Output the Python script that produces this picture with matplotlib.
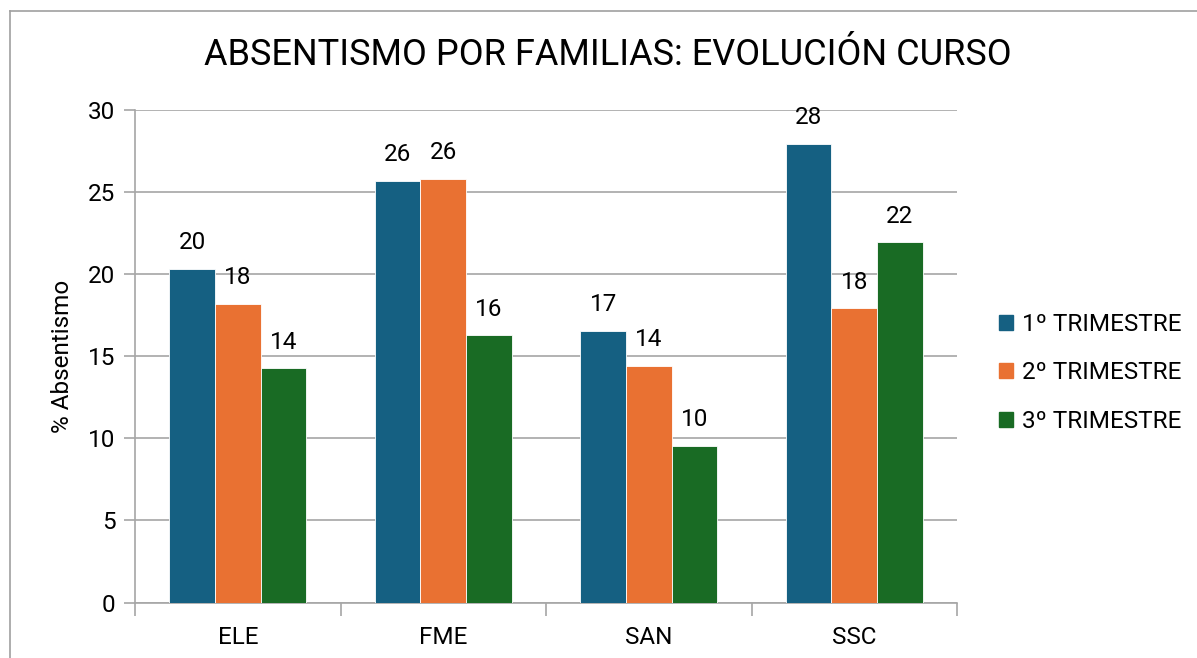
import matplotlib
matplotlib.use("Agg")
import matplotlib.pyplot as plt
from matplotlib.lines import Line2D
import numpy as np

categories = ["ELE", "FME", "SAN", "SSC"]
series_names = ["1º TRIMESTRE", "2º TRIMESTRE", "3º TRIMESTRE"]
t1 = [20.3, 25.67, 16.53, 27.92]
t2 = [18.18, 25.8, 14.42, 17.92]
t3 = [14.26, 16.27, 9.53, 21.94]
colors = ["#156082", "#E97132", "#196B24"]
title = "ABSENTISMO POR FAMILIAS: EVOLUCIÓN CURSO"
ylabel = "% Absentismo"
yticks = [0, 5, 10, 15, 20, 25, 30]

plt.rcParams['font.family'] = ['Roboto', 'DejaVu Sans']

W, H = 1197, 658
fig = plt.figure(figsize=(W / 100, H / 100), dpi=100)
ax = fig.add_axes([135 / W, (H - 602.5) / H, 822 / W, 492.5 / H])

# outer border (left & top)
fig.add_artist(Line2D([10 / W, 10 / W], [0, 1 - 11 / H], transform=fig.transFigure, color="#A0A0A0", lw=1.2))
fig.add_artist(Line2D([10 / W, 1], [1 - 11 / H, 1 - 11 / H], transform=fig.transFigure, color="#A0A0A0", lw=1.2))

fs = 17.5
x = np.arange(len(categories))
bw = 1 / 4.5
data = [t1, t2, t3]
for i, (vals, c, name) in enumerate(zip(data, colors, series_names)):
    pos = x + (i - 1) * bw
    ax.bar(pos, vals, width=bw, color=c, edgecolor="white", linewidth=0.6, label=name, zorder=3)
    for p, v in zip(pos, vals):
        ax.text(p, v + 1.6, f"{v:.0f}", ha="center", va="center", fontsize=fs, color="black", zorder=4)

ax.set_xlim(-0.5, len(categories) - 0.5)
ax.set_ylim(0, 30)
ax.set_yticks(yticks)
ax.set_yticklabels([str(t) for t in yticks], fontsize=fs)
ax.yaxis.grid(True, color="#A6A6A6", linewidth=1.2, zorder=0)
ax.set_axisbelow(True)
ax.tick_params(axis="y", length=8, color="#A6A6A6", width=1.2, pad=6)

ax.set_xticks(x)
ax.set_xticklabels(categories, fontsize=fs)
ax.tick_params(axis="x", length=0, pad=17)
ax.set_xticks(np.arange(len(categories) + 1) - 0.5, minor=True)
ax.tick_params(axis="x", which="minor", length=9, color="#A6A6A6", width=1.2)

for s in ["top", "right"]:
    ax.spines[s].set_visible(False)
for s in ["left", "bottom"]:
    ax.spines[s].set_color("#A6A6A6")
    ax.spines[s].set_linewidth(1.2)

ax.set_ylabel(ylabel, fontsize=fs, labelpad=10)

fig.text(608 / W, 1 - 55 / H, title, ha="center", va="center", fontsize=26)

handles = [plt.Rectangle((0, 0), 1, 1, color=c) for c in colors]
fig.legend(handles, series_names, loc="center left", bbox_to_anchor=(999 / W, 1 - 373 / H),
           frameon=False, fontsize=fs, handlelength=0.58, handleheight=0.58,
           handletextpad=0.37, labelspacing=1.05, borderpad=0, borderaxespad=0)

fig.savefig("out.png", dpi=100)
